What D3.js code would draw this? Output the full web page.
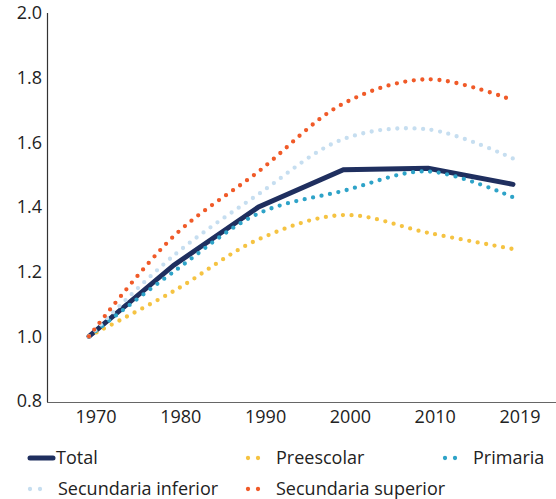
<!DOCTYPE html>
<html>
<head>
<meta charset="utf-8">
<script src="https://cdn.jsdelivr.net/npm/d3@7"></script>
<style>
  body { margin: 0; background: #fff; }
  text { font-family: "Open Sans", sans-serif; fill: #222; }
</style>
</head>
<body>
<svg id="chart" width="556" height="499"></svg>
<script>
var years = ['1970', '1980', '1990', '2000', '2010', '2019'];
var yTicks = [0.8, 1.0, 1.2, 1.4, 1.6, 1.8, 2.0];

var total       = [1.00, 1.22, 1.40, 1.515, 1.52, 1.47];
var preescolar  = [1.00, 1.14, 1.30, 1.375, 1.32, 1.27];
var primaria    = [1.00, 1.20, 1.38, 1.45, 1.51, 1.43];
var secInferior = [1.00, 1.25, 1.44, 1.61, 1.64, 1.55];
var secSuperior = [1.00, 1.31, 1.51, 1.72, 1.795, 1.73];

var seriesNames  = ['Total', 'Preescolar', 'Primaria', 'Secundaria inferior', 'Secundaria superior'];
var seriesColors = ['#1f2f5f', '#f5c342', '#2ea3c8', '#c6def0', '#f05a28'];

var series = [total, preescolar, primaria, secInferior, secSuperior].map(function (values, i) {
    return { name: seriesNames[i], color: seriesColors[i], values: values, solid: i === 0 };
});

var svg = d3.select('#chart');

var x = d3.scalePoint().domain(years).range([89, 513]);
var y = d3.scaleLinear().domain([0.8, 2.0]).range([401, 13]);

// Axes
svg.append('line')
    .attr('x1', 47.5).attr('x2', 47.5)
    .attr('y1', 13).attr('y2', 402)
    .attr('stroke', '#333').attr('stroke-width', 1.2);

svg.append('line')
    .attr('x1', 47).attr('x2', 556)
    .attr('y1', 402.5).attr('y2', 402.5)
    .attr('stroke', '#666').attr('stroke-width', 1.2);

svg.selectAll('.ytick')
    .data(yTicks)
    .enter().append('text')
    .attr('class', 'ytick')
    .attr('x', 42)
    .attr('y', d => y(d))
    .attr('dy', '0.35em')
    .attr('text-anchor', 'end')
    .style('font-size', '18px')
    .text(d => d.toFixed(1));

svg.selectAll('.xtick')
    .data(years)
    .enter().append('text')
    .attr('class', 'xtick')
    .attr('x', d => x(d) + 7)
    .attr('y', 417)
    .attr('dy', '0.35em')
    .attr('text-anchor', 'middle')
    .style('font-size', '18px')
    .text(d => d);

// Lines
var smooth = d3.line()
    .x((d, i) => x(years[i]))
    .y(d => y(d))
    .curve(d3.curveCatmullRom.alpha(0.5));

var straight = d3.line()
    .x((d, i) => x(years[i]))
    .y(d => y(d));

svg.selectAll('.series')
    .data(series)
    .enter().append('path')
    .attr('class', 'series')
    .attr('fill', 'none')
    .attr('stroke', s => s.color)
    .attr('stroke-width', s => s.solid ? 5 : 4.3)
    .attr('stroke-linecap', 'round')
    .attr('stroke-linejoin', s => s.solid ? 'miter' : 'round')
    .attr('stroke-dasharray', s => s.solid ? null : '0 8.6')
    .attr('d', s => s.solid ? straight(s.values) : smooth(s.values));

// Legend
var legendPos = [
    { x: 30, y: 458 }, { x: 248, y: 458 }, { x: 445, y: 458 },
    { x: 30, y: 489 }, { x: 248, y: 489 }
];

var legend = svg.selectAll('.legend')
    .data(series)
    .enter().append('g')
    .attr('class', 'legend')
    .attr('transform', (s, i) => `translate(${ legendPos[i].x }, ${ legendPos[i].y })`);

legend.append('line')
    .attr('x1', 0).attr('x2', s => s.solid ? 23 : 20)
    .attr('y1', 0).attr('y2', 0)
    .attr('stroke', s => s.color)
    .attr('stroke-width', s => s.solid ? 5 : 4.3)
    .attr('stroke-linecap', 'round')
    .attr('stroke-dasharray', s => s.solid ? null : '0 10');

legend.append('text')
    .attr('x', s => s.solid ? 26 : 28)
    .attr('y', 0)
    .attr('dy', '0.35em')
    .style('font-size', '18px')
    .text(s => s.name);
</script>
</body>
</html>
